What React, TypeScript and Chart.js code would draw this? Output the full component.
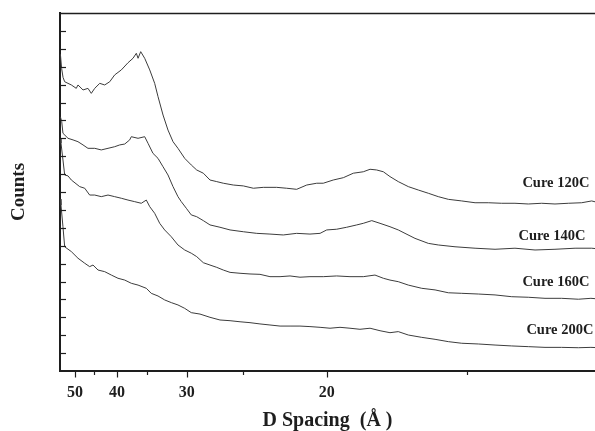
import React, { useEffect, useRef } from "react";
import { Chart, registerables } from "chart.js";

Chart.register(...registerables);

// ---- Data (x = 2θ in degrees, Cu Kα; y = counts, arbitrary units, stacked offsets) ----
const cure120X = [1.612, 1.625, 1.64, 1.657, 1.727, 1.779, 1.797, 1.85, 1.902, 1.937, 1.973, 2.026, 2.078, 2.131, 2.183, 2.253, 2.323, 2.376, 2.411, 2.429, 2.457, 2.499, 2.552, 2.604, 2.639, 2.692, 2.744, 2.797, 2.849, 2.92, 2.989, 3.046, 3.116, 3.186, 3.257, 3.326, 3.431, 3.537, 3.642, 3.747, 3.888, 3.993, 4.098, 4.204, 4.309, 4.378, 4.483, 4.589, 4.694, 4.799, 4.87, 4.94, 5.01, 5.08, 5.167, 5.273, 5.378, 5.483, 5.588, 5.694, 5.835, 5.975, 6.114, 6.255, 6.395, 6.535, 6.676, 6.816, 6.956, 7.097, 7.202, 7.24];
const cure120Y = [1770, 1690, 1640, 1616, 1598, 1579, 1598, 1570, 1579, 1551, 1579, 1607, 1598, 1616, 1654, 1682, 1722, 1747, 1775, 1747, 1784, 1747, 1682, 1607, 1533, 1430, 1346, 1281, 1244, 1188, 1151, 1123, 1105, 1067, 1058, 1049, 1039, 1034, 1021, 1026, 1026, 1021, 1015, 1039, 1049, 1049, 1067, 1080, 1105, 1113, 1127, 1123, 1113, 1086, 1058, 1030, 1011, 993, 974, 959, 950, 940, 940, 937, 937, 933, 937, 933, 937, 940, 950, 945];

const cure140X = [1.612, 1.626, 1.639, 1.692, 1.745, 1.797, 1.85, 1.902, 1.973, 2.042, 2.113, 2.183, 2.236, 2.289, 2.341, 2.358, 2.429, 2.499, 2.534, 2.586, 2.639, 2.692, 2.744, 2.797, 2.849, 2.884, 2.937, 2.989, 3.046, 3.116, 3.186, 3.291, 3.397, 3.537, 3.678, 3.817, 3.957, 4.098, 4.238, 4.344, 4.414, 4.519, 4.624, 4.73, 4.799, 4.888, 4.975, 5.08, 5.167, 5.238, 5.343, 5.483, 5.588, 5.764, 5.975, 6.185, 6.395, 6.606, 6.816, 7.027, 7.202, 7.24];
const cure140Y = [1420, 1393, 1328, 1300, 1291, 1281, 1263, 1244, 1244, 1235, 1244, 1253, 1263, 1268, 1291, 1309, 1300, 1309, 1272, 1216, 1188, 1141, 1095, 1030, 974, 946, 909, 872, 862, 840, 816, 803, 788, 778, 769, 765, 760, 769, 765, 769, 788, 792, 803, 816, 825, 840, 825, 806, 788, 769, 741, 713, 704, 694, 686, 680, 686, 676, 680, 686, 686, 684];

const cure160X = [1.612, 1.618, 1.639, 1.657, 1.692, 1.727, 1.815, 1.868, 1.92, 1.973, 2.042, 2.113, 2.183, 2.253, 2.323, 2.394, 2.463, 2.516, 2.552, 2.604, 2.657, 2.709, 2.779, 2.849, 2.92, 2.989, 3.046, 3.116, 3.186, 3.257, 3.326, 3.397, 3.502, 3.607, 3.712, 3.817, 3.923, 4.028, 4.133, 4.238, 4.378, 4.519, 4.659, 4.799, 4.922, 5.01, 5.08, 5.167, 5.273, 5.414, 5.554, 5.694, 5.835, 6.009, 6.185, 6.361, 6.535, 6.711, 6.886, 7.062, 7.194, 7.24];
const cure160Y = [1300, 1274, 1179, 1095, 1090, 1067, 1030, 1021, 983, 983, 974, 983, 974, 965, 955, 946, 937, 955, 918, 881, 825, 788, 750, 704, 676, 658, 639, 605, 592, 579, 564, 551, 546, 542, 540, 527, 527, 531, 524, 527, 527, 531, 527, 527, 536, 518, 508, 499, 480, 462, 453, 437, 434, 430, 425, 415, 412, 406, 406, 401, 406, 404];

const cure200X = [1.612, 1.618, 1.639, 1.657, 1.727, 1.797, 1.868, 1.92, 1.955, 2.008, 2.078, 2.148, 2.218, 2.289, 2.358, 2.429, 2.516, 2.568, 2.639, 2.709, 2.779, 2.849, 2.92, 2.989, 3.081, 3.186, 3.291, 3.397, 3.502, 3.607, 3.712, 3.817, 3.923, 4.028, 4.133, 4.238, 4.344, 4.449, 4.554, 4.659, 4.764, 4.87, 4.975, 5.08, 5.167, 5.273, 5.414, 5.554, 5.694, 5.835, 6.009, 6.185, 6.361, 6.535, 6.711, 6.886, 7.062, 7.194, 7.24];
const cure200Y = [960, 927, 806, 694, 667, 630, 602, 583, 592, 564, 555, 536, 518, 508, 490, 480, 462, 434, 419, 397, 382, 369, 350, 326, 318, 300, 285, 281, 275, 270, 263, 257, 251, 251, 251, 248, 244, 239, 244, 239, 233, 239, 225, 214, 220, 201, 188, 177, 164, 155, 151, 145, 140, 136, 132, 132, 130, 132, 131];

const seriesNames = ["Cure 120C", "Cure 140C", "Cure 160C", "Cure 200C"];
const labelX = [7.178, 7.136, 7.178, 7.22];
const labelY = [1050, 754, 497, 229];

const majorD = [50, 40, 30, 20];
const minorD = [45, 35, 25, 15];

const WAVELENGTH = 1.5406;
const twoTheta = (d: number) => (2 * Math.asin(WAVELENGTH / (2 * d)) * 180) / Math.PI;

const X_MIN = 1.6078;
const X_MAX = 7.237;
const Y_MIN = 0;
const Y_MAX = 2000;
const Y_STEP = 100;

const SERIF = "'Liberation Serif', 'Times New Roman', serif";
const INK = "#1e1e1e";
const LINE = "#3c3c3c";

const toPoints = (xs: number[], ys: number[]) => xs.map((x, i) => ({ x, y: ys[i] }));

const decorPlugin = {
  id: "decor",
  afterDraw(chart: any) {
    const { ctx, chartArea, scales } = chart;
    const xs = scales.x;
    const ys = scales.y;
    ctx.save();
    ctx.strokeStyle = INK;
    // top frame line
    ctx.lineWidth = 1.6;
    ctx.beginPath();
    ctx.moveTo(chartArea.left, chartArea.top + 0.5);
    ctx.lineTo(chartArea.right, chartArea.top + 0.5);
    ctx.stroke();
    // y ticks, inside
    ctx.lineWidth = 1.2;
    for (let v = Y_MIN + Y_STEP; v < Y_MAX; v += Y_STEP) {
      const py = Math.round(ys.getPixelForValue(v)) + 0.5;
      ctx.beginPath();
      ctx.moveTo(chartArea.left, py);
      ctx.lineTo(chartArea.left + 6, py);
      ctx.stroke();
    }
    // x ticks, outside
    const drawX = (d: number, len: number) => {
      const px = Math.round(xs.getPixelForValue(twoTheta(d))) + 0.5;
      ctx.beginPath();
      ctx.moveTo(px, chartArea.bottom);
      ctx.lineTo(px, chartArea.bottom + len);
      ctx.stroke();
    };
    majorD.forEach((d) => drawX(d, 6.5));
    minorD.forEach((d) => drawX(d, 4));
    // series labels
    ctx.fillStyle = INK;
    ctx.font = `bold 14.5px ${SERIF}`;
    ctx.textAlign = "right";
    ctx.textBaseline = "middle";
    seriesNames.forEach((name, i) => {
      ctx.fillText(name, xs.getPixelForValue(labelX[i]), ys.getPixelForValue(labelY[i]));
    });
    ctx.restore();
  },
};

export default function App() {
  const ref = useRef<HTMLCanvasElement | null>(null);

  useEffect(() => {
    if (!ref.current) return;
    const ds = (xs: number[], ys: number[], label: string) => ({
      label,
      data: toPoints(xs, ys),
      borderColor: LINE,
      borderWidth: 1,
      pointRadius: 0,
      tension: 0,
      fill: false,
    });
    const chart = new Chart(ref.current, {
      type: "line",
      data: {
        datasets: [
          ds(cure120X, cure120Y, seriesNames[0]),
          ds(cure140X, cure140Y, seriesNames[1]),
          ds(cure160X, cure160Y, seriesNames[2]),
          ds(cure200X, cure200Y, seriesNames[3]),
        ],
      },
      options: {
        responsive: false,
        animation: false,
        devicePixelRatio: 1,
        layout: { padding: { left: 0, right: 0, top: 13, bottom: 0 } },
        plugins: { legend: { display: false }, tooltip: { enabled: false } },
        scales: {
          x: {
            type: "linear",
            min: X_MIN,
            max: X_MAX,
            afterBuildTicks: (scale: any) => {
              scale.ticks = majorD.map((d) => ({ value: twoTheta(d) }));
            },
            afterFit: (scale: any) => {
              scale.height = 60;
            },
            grid: { display: false, drawTicks: false },
            border: { display: true, color: INK, width: 2 },
            ticks: {
              autoSkip: false,
              maxRotation: 0,
              padding: 12,
              color: INK,
              font: { family: SERIF, size: 16, weight: "bold" },
              callback: (_v: any, i: number) => String(majorD[i]),
            },
            title: {
              display: true,
              text: "D Spacing  (Å )",
              color: INK,
              font: { family: SERIF, size: 20, weight: "bold", lineHeight: 1 },
              padding: { top: 0, bottom: 0 },
            },
          },
          y: {
            type: "linear",
            min: Y_MIN,
            max: Y_MAX,
            afterFit: (scale: any) => {
              scale.width = 60;
            },
            grid: { display: false, drawTicks: false },
            border: { display: true, color: INK, width: 2 },
            ticks: { display: false, stepSize: Y_STEP },
            title: {
              display: true,
              text: "Counts",
              color: INK,
              font: { family: SERIF, size: 19, weight: "bold", lineHeight: 1 },
              padding: { top: 10, bottom: 0 },
            },
          },
        },
      },
      plugins: [decorPlugin],
    } as any);
    return () => chart.destroy();
  }, []);

  return (
    <div style={{ position: "fixed", left: 0, top: 0, width: 595, height: 431, background: "#fff" }}>
      <canvas ref={ref} width={595} height={431} style={{ display: "block" }} />
    </div>
  );
}
